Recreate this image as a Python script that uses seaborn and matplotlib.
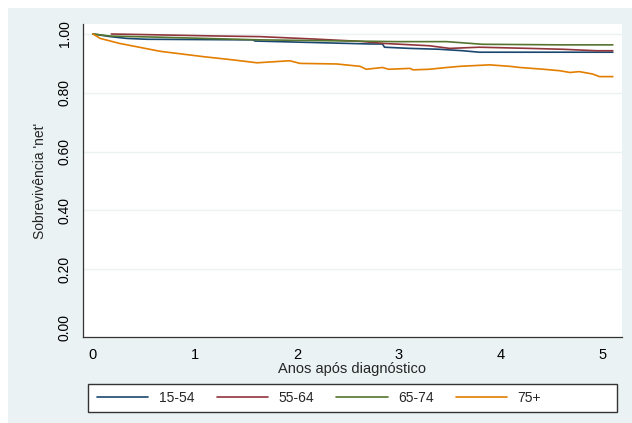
import numpy as np
import pandas as pd
import matplotlib
matplotlib.use("Agg")
import matplotlib.pyplot as plt
import seaborn as sns

# DADOS
groups = ["15-54", "55-64", "65-74", "75+"]
colors = ["#1a476f", "#90353b", "#55752f", "#e37e00"]

t_1554 = [0, 0.17, 0.33, 0.53, 1.57, 1.59, 2.72, 2.84, 2.86, 3.11, 3.40, 3.63, 3.79, 5.10]
s_1554 = [1.0, 0.991, 0.985, 0.982, 0.980, 0.976, 0.966, 0.966, 0.955, 0.951, 0.948, 0.943, 0.938, 0.938]

t_5564 = [0.18, 1.25, 1.64, 2.16, 2.62, 2.85, 3.30, 3.50, 3.79, 4.28, 4.61, 4.94, 5.10]
s_5564 = [1.0, 0.993, 0.991, 0.983, 0.975, 0.968, 0.960, 0.951, 0.955, 0.951, 0.948, 0.943, 0.943]

t_6574 = [0, 0.17, 0.66, 1.64, 2.32, 2.98, 3.47, 3.82, 4.61, 5.10]
s_6574 = [1.0, 0.993, 0.989, 0.980, 0.977, 0.974, 0.974, 0.965, 0.963, 0.963]

t_75 = [0, 0.07, 0.26, 0.66, 1.08, 1.37, 1.61, 1.93, 2.03, 2.39, 2.62, 2.68, 2.84,
        2.90, 3.11, 3.14, 3.30, 3.47, 3.60, 3.89, 4.09, 4.19, 4.42, 4.58, 4.68,
        4.77, 4.90, 4.97, 5.10]
s_75 = [1.0, 0.985, 0.968, 0.941, 0.923, 0.912, 0.902, 0.909, 0.900, 0.898, 0.890,
        0.880, 0.886, 0.880, 0.883, 0.878, 0.880, 0.886, 0.890, 0.895, 0.890, 0.886,
        0.880, 0.875, 0.869, 0.872, 0.864, 0.855, 0.855]

y_ticks = [0.0, 0.2, 0.4, 0.6, 0.8, 1.0]
y_ticklabels = ["0.00", "0.20", "0.40", "0.60", "0.80", "1.00"]
x_ticks = [0, 1, 2, 3, 4, 5]

frames = []
for g, t, s in zip(groups, [t_1554, t_5564, t_6574, t_75], [s_1554, s_5564, s_6574, s_75]):
    frames.append(pd.DataFrame({"t": t, "s": s, "grupo": g}))
df = pd.concat(frames, ignore_index=True)

sns.set_style("white")
plt.rcParams["font.family"] = ["Liberation Sans", "DejaVu Sans"]

BG = "#eaf2f3"
fig = plt.figure(figsize=(6.32, 4.23), dpi=100, facecolor="white")
# painel de fundo
fig.patches.append(plt.Rectangle((8 / 632, 0), 1 - 8 / 632, 1 - 8 / 423,
                                 transform=fig.transFigure, facecolor=BG,
                                 edgecolor="none", zorder=-10))

ax = fig.add_axes([83 / 632, 86 / 423, 539 / 632, 313 / 423])
ax.set_facecolor("white")

sns.lineplot(data=df, x="t", y="s", hue="grupo", hue_order=groups,
             palette=colors, estimator=None, sort=False,
             linewidth=1.2, legend=False, ax=ax)

ax.set_xlim(-0.098, 5.19)
ax.set_ylim(-0.031, 1.034)

for yv in y_ticks[1:]:
    ax.axhline(yv, color=BG, lw=1.0, zorder=0)

ax.set_yticks(y_ticks)
ax.set_yticklabels(y_ticklabels, rotation=90, va="center", fontsize=10)
ax.set_xticks(x_ticks)
ax.set_xticklabels([str(v) for v in x_ticks], fontsize=10.5)
ax.tick_params(axis="both", direction="out", length=5, width=0.8,
               color="#333333", labelcolor="black", pad=3)
ax.set_xlabel("Anos após diagnóstico", fontsize=10.5, labelpad=0)
ax.set_ylabel("Sobrevivência 'net'", fontsize=10, labelpad=8)

for side in ["top", "right"]:
    ax.spines[side].set_visible(False)
for side in ["left", "bottom"]:
    ax.spines[side].set_color("#333333")
    ax.spines[side].set_linewidth(0.9)

# caixa da legenda
fig.patches.append(plt.Rectangle((88 / 632, 11 / 423), 529 / 632, 28 / 423,
                                 transform=fig.transFigure, facecolor="white",
                                 edgecolor="#333333", lw=1.0, zorder=1))
handles = [plt.Line2D([0], [0], color=c, lw=1.2) for c in colors]
leg = fig.legend(handles, groups, ncol=4, loc="center left",
                 bbox_to_anchor=(97 / 632, 25 / 423),
                 fontsize=10, handlelength=3.7, handletextpad=0.75,
                 columnspacing=1.6, frameon=False, borderaxespad=0, borderpad=0)
leg.set_zorder(2)

fig.savefig("out.png", dpi=100, facecolor="white")
